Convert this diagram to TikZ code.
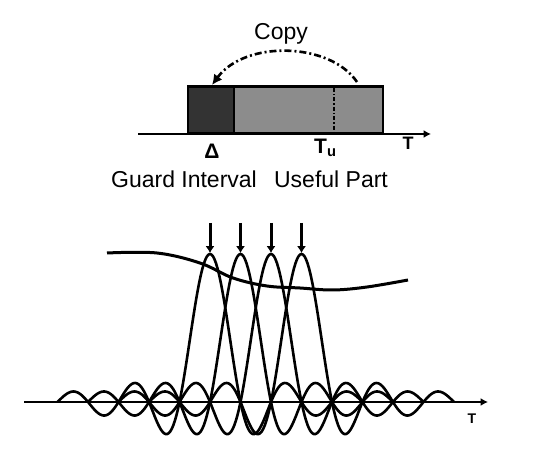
\documentclass[tikz,border=0pt]{standalone}
\usepackage{fontspec}
\setmainfont{Liberation Sans}
\usetikzlibrary{arrows.meta,positioning,calc}
\definecolor{guardcol}{HTML}{333333}
\definecolor{usefulcol}{HTML}{8C8C8C}

\begin{document}
\begin{tikzpicture}[x=1pt,y=-1pt,
  part/.style={draw,line width=2.6pt,inner sep=0pt,minimum height=47pt},
  lbl/.style={font=\fontsize{23}{25}\selectfont,inner sep=0pt},
  symlbl/.style={font=\fontsize{21}{21}\selectfont\bfseries,inner sep=0pt},
  axis/.style={line width=2.6pt,-{Latex[length=2.6mm,width=2.8mm]}},
  wave/.style={line width=2.6pt,line join=round},
  carrier/.style={line width=3pt,-{Latex[length=2.4mm,width=3.2mm]}}]
  \useasboundingbox (0,0) rectangle (550,454);
  % symbol with guard interval
  \coordinate (tstart) at (138,134);
  \coordinate (tend) at (431,134);
  \draw[axis] (tstart)--(tend);
  \node[part,fill=guardcol,minimum width=46pt] (guard) at (211,110) {};
  \node[part,fill=usefulcol,minimum width=149pt] (useful) at (308.5,110) {};
  \draw[line width=2.6pt,dash pattern=on 4pt off 2pt on 1.5pt off 2pt] (334,88)--(334,132);
  \node[symlbl,font=\fontsize{18}{18}\selectfont\bfseries] (tlab) at (408,143) {T};
  \node[symlbl] (delta) at (212,151) {Δ};
  \node[symlbl,anchor=north west] (tu) at (314,139) {T\textsubscript{u}};
  \node[lbl] (glbl) at (184,179) {Guard Interval};
  \node[lbl] (ulbl) at (331,179) {Useful Part};
  \node[lbl] (copy) at (281,34) {Copy};
  \coordinate (cfrom) at (357,82);
  \coordinate (cto) at (212,85);
  \draw[line width=2.6pt,dash pattern=on 7pt off 3pt on 2pt off 3pt,-{Latex[length=3.6mm,width=3.6mm]}]
    (cfrom) .. controls (330,42) and (245,40) .. (cto);
  % subcarrier spectra
  \coordinate (fstart) at (24,402);
  \coordinate (fend) at (488,402);
  \draw[axis] (fstart)--(fend);
  \node[symlbl,font=\fontsize{14}{14}\selectfont\bfseries] (flab) at (472,419) {T};
  \foreach \c [count=\i] in {210,240.5,271,301.5}{
    \draw[wave] plot[domain=-5:5,samples=201] ({\c+30.5*\x},{402-148*sin(180*\x)/(pi*\x)});
    \coordinate (top\i) at (\c,223);
    \coordinate (pk\i) at (\c,253);
    \draw[carrier] (top\i)--(pk\i);
  }
  % channel transfer function
  \draw[wave,line width=3pt] plot[smooth,tension=0.6] coordinates
    {(107,253) (157,253) (200,263) (233,278) (267,286) (300,288) (333,290) (367,287) (408,280)};
\end{tikzpicture}
\end{document}
